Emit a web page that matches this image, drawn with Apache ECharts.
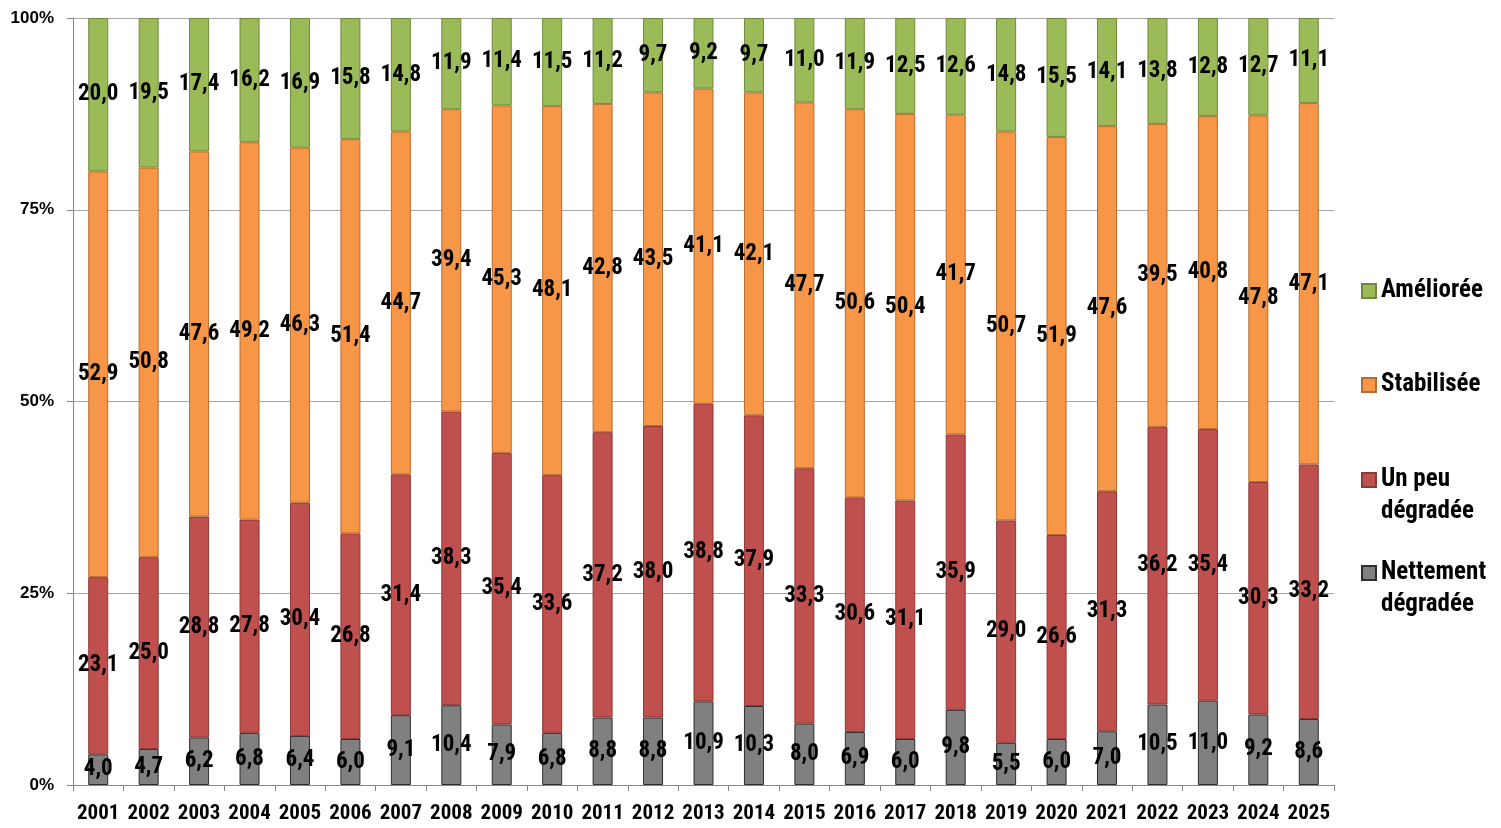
<!DOCTYPE html>
<html>
<head>
<meta charset="utf-8">
<script src="https://cdn.jsdelivr.net/npm/echarts@6/dist/echarts.min.js"></script>
<style>
  html, body { margin: 0; padding: 0; background: #ffffff; }
  #chart { width: 1501px; height: 828px; }
</style>
</head>
<body>
<div id="chart"></div>
<script>
// Years on the horizontal axis
const years = ['2001','2002','2003','2004','2005','2006','2007','2008','2009','2010','2011','2012','2013',
               '2014','2015','2016','2017','2018','2019','2020','2021','2022','2023','2024','2025'];

// Share of each situation per year (%)
const nettementDegradee = [4.0,4.7,6.2,6.8,6.4,6.0,9.1,10.4,7.9,6.8,8.8,8.8,10.9,10.3,8.0,6.9,6.0,9.8,5.5,6.0,7.0,10.5,11.0,9.2,8.6];
const unPeuDegradee     = [23.1,25.0,28.8,27.8,30.4,26.8,31.4,38.3,35.4,33.6,37.2,38.0,38.8,37.9,33.3,30.6,31.1,35.9,29.0,26.6,31.3,36.2,35.4,30.3,33.2];
const stabilisee        = [52.9,50.8,47.6,49.2,46.3,51.4,44.7,39.4,45.3,48.1,42.8,43.5,41.1,42.1,47.7,50.6,50.4,41.7,50.7,51.9,47.6,39.5,40.8,47.8,47.1];
const amelioree         = [20.0,19.5,17.4,16.2,16.9,15.8,14.8,11.9,11.4,11.5,11.2,9.7,9.2,9.7,11.0,11.9,12.5,12.6,14.8,15.5,14.1,13.8,12.8,12.7,11.1];

// Y axis ticks
const yTicks = [0, 25, 50, 75, 100];

const NARROW = "'Roboto Condensed', Roboto, sans-serif";
const NARROW_WEIGHT = 'bold condensed';
const WIDE = "'Liberation Sans', Arial, sans-serif";

const fmt = v => v.toFixed(1).replace('.', ',');

function barSeries(name, data, fill, border) {
  return {
    name: name,
    type: 'bar',
    stack: 'total',
    data: data,
    barWidth: 20,
    itemStyle: { color: fill, borderColor: border, borderWidth: 1 },
    label: {
      show: true,
      position: 'inside',
      color: '#000',
      fontFamily: NARROW,
      fontWeight: NARROW_WEIGHT,
      fontSize: 23,
      formatter: p => fmt(p.value)
    },
    emphasis: { disabled: true }
  };
}

const chart = echarts.init(document.getElementById('chart'), null, { renderer: 'canvas' });

// Legend icon: square sitting on the first line of a two-line label
const tallIcon = 'path://M0,0H14V14H0Z M14,46';

const legendText = { color: '#000', fontFamily: NARROW, fontWeight: NARROW_WEIGHT, fontSize: 25, lineHeight: 32 };

chart.setOption({
  animation: false,
  backgroundColor: '#ffffff',
  grid: { left: 73, right: 167, top: 18, bottom: 43, containLabel: false },
  legend: [
    {
      orient: 'vertical',
      left: 1356,
      top: 270,
      itemWidth: 14,
      itemHeight: 14,
      itemGap: 62,
      icon: 'rect',
      selectedMode: false,
      textStyle: legendText,
      data: ['Améliorée', 'Stabilisée']
    },
    {
      orient: 'vertical',
      left: 1356,
      top: 459,
      itemWidth: 14,
      itemHeight: 46,
      itemGap: 29,
      icon: tallIcon,
      selectedMode: false,
      textStyle: legendText,
      data: ['Un peu\ndégradée', 'Nettement\ndégradée']
    }
  ],
  xAxis: {
    type: 'category',
    data: years,
    axisLine: { show: true, lineStyle: { color: '#868686', width: 1 } },
    axisTick: { show: true, alignWithLabel: false, length: 6, lineStyle: { color: '#868686' } },
    axisLabel: { color: '#000', fontFamily: NARROW, fontWeight: NARROW_WEIGHT, fontSize: 21, margin: 18, interval: 0 }
  },
  yAxis: {
    type: 'value',
    min: yTicks[0],
    max: yTicks[yTicks.length - 1],
    interval: 25,
    axisLine: { show: true, lineStyle: { color: '#868686', width: 1 } },
    axisTick: { show: true, length: 6, lineStyle: { color: '#868686' } },
    splitLine: { show: true, lineStyle: { color: '#A6A6A6', width: 1 } },
    axisLabel: { color: '#000', fontFamily: WIDE, fontWeight: 'bold', fontSize: 17, margin: 19, formatter: '{value}%' }
  },
  series: [
    barSeries('Nettement\ndégradée', nettementDegradee, '#808080', '#2E2E2E'),
    barSeries('Un peu\ndégradée', unPeuDegradee, '#C0504D', '#8C3836'),
    barSeries('Stabilisée', stabilisee, '#F79646', '#B66D31'),
    barSeries('Améliorée', amelioree, '#9BBB59', '#6E8A3C')
  ]
});
</script>
</body>
</html>
